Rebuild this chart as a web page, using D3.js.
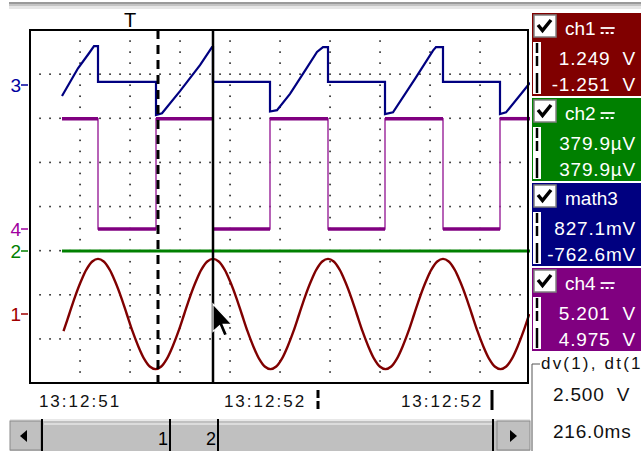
<!DOCTYPE html>
<html>
<head>
  <meta charset="UTF-8">
  <style>
body { margin: 0; background: #fff; }
svg { display: block; font-family: "Liberation Sans", Arial, sans-serif; }
  </style>
</head>
<body>
<svg></svg>
<script src="https://d3js.org/d3.v7.min.js"></script>
<script>

let width = 641, height = 451;

// ---- data ----
let chNames = ["ch1", "ch2", "math3", "ch4"];
let chMarkers = ["1", "2", "3", "4"];
let cursor1Text = ["1.249  V", "379.9\u00b5V", "827.1mV", "5.201  V"];
let cursor2Text = ["-1.251  V", "379.9\u00b5V", "-762.6mV", "4.975  V"];
let dvLabel = "dv(1), dt(1)";
let dvText = "2.500  V", dtText = "216.0ms";
let cursorTimes = [512, 732];          // ms from left edge
let triggerTime = 400;
let timeLabels = ["13:12:51", "13:12:52", "13:12:52"];
let timeLabelTimes = [200, 940, 1648];
let timeMarkTimes = [1152, 1848];

// ch1: sampled every 23 ms from 134 ms (V)
let ch1Start = 134, ch1Step = 23;
let ch1Values = [
  -0.39, 0.00, 0.39, 0.73, 1.01, 1.19, 1.25, 1.19, 1.01, 0.73,
   0.39, 0.00,-0.39,-0.73,-1.01,-1.19,-1.25,-1.19,-1.01,-0.73,
  -0.39, 0.00, 0.39, 0.73, 1.01, 1.19, 1.25, 1.19, 1.01, 0.73,
   0.39, 0.00,-0.39,-0.73,-1.01,-1.19,-1.25,-1.19,-1.01,-0.73,
  -0.39, 0.00, 0.39, 0.73, 1.01, 1.19, 1.25, 1.19, 1.01, 0.73,
   0.39, 0.00,-0.39,-0.73,-1.01,-1.19,-1.25,-1.19,-1.01,-0.73,
  -0.39, 0.00, 0.39, 0.73, 1.01, 1.19, 1.25, 1.19, 1.01, 0.73,
   0.39, 0.00,-0.39,-0.73,-1.01,-1.19,-1.25,-1.19,-1.01,-0.73,
  -0.39, 0.00
];

// ch2: flat
let ch2Times = [128, 2000];
let ch2Values = [0.00038, 0.00038];

// math3
let math3Times = [128, 192, 236, 256, 272, 272,
  504, 504, 528, 600, 680, 720, 728, 732, 732,
  960, 960, 988, 1040, 1104, 1148, 1172, 1192, 1192,
  1420, 1420, 1452, 1540, 1612, 1624, 1652, 1652,
  1880, 1880, 1904, 1976, 2000];
let math3Values = [-0.25, 0.38, 0.72, 0.88, 0.88, 0.07,
  0.07, -0.68, -0.64, -0.14, 0.45, 0.79, 0.86, 0.86, 0.07,
  0.07, -0.60, -0.57, -0.20, 0.36, 0.75, 0.86, 0.86, 0.07,
  0.07, -0.66, -0.62, 0.14, 0.78, 0.86, 0.86, 0.07,
  0.07, -0.66, -0.62, -0.12, 0.05];

// ch4: square wave (V)
let ch4Times = [128, 272, 272, 504, 504, 732, 732, 960, 960, 1192, 1192, 1420, 1420, 1652, 1652, 1880, 1880, 2000];
let ch4Values = [5.0, 5.0, 0, 0, 5.0, 5.0, 0, 0, 5.0, 5.0, 0, 0, 5.0, 5.0, 0, 0, 5.0, 5.0];

let svg = d3.select("svg")
    .attr("width", width)
    .attr("height", height)
    .attr("viewBox", "0 0 " + width + " " + height)

let plotL = 30, plotR = 528, plotT = 30, plotB = 383;
let divH = (plotB - plotT) / 8;

let x = d3.scaleLinear().domain([0, 2000]).range([30, 530]);
let yDiv = d3.scaleLinear().domain([0, 8]).range([plotT, plotB]);

function chScale(offset, vPerDiv) {
    return d3.scaleLinear().domain([0, vPerDiv]).range([offset, offset - divH]);
}
let yScales = [chScale(314, 1), chScale(251, 1), chScale(85, 1), chScale(229, 2)];
let colors = ["#800000", "#008000", "#000080", "#800080"];
let markerColors = ["#a00000", "#008000", "#0000a0", "#a000a0"];

// top gray strip
svg.append("rect").attr("x", 9).attr("y", 2).attr("width", 640).attr("height", 2).attr("fill", "#9a9a9a");
svg.append("rect").attr("x", 9).attr("y", 4).attr("width", 640).attr("height", 2).attr("fill", "#c4c4c4");
svg.append("rect").attr("x", 9).attr("y", 6).attr("width", 640).attr("height", 3).attr("fill", "#e6e6e6");

// grid dots
let dots = [];
d3.range(1, 8).forEach(k => {
    d3.range(40, 2000, 40).forEach(t => dots.push([x(t), yDiv(k)]));
});
d3.range(200, 2000, 200).forEach(t => {
    d3.range(0.25, 8, 0.25).forEach(k => { if (k % 1 !== 0) dots.push([x(t), yDiv(k)]); });
});
svg.append("g").selectAll("rect").data(dots).enter().append("rect")
    .attr("x", d => d[0] - 0.75).attr("y", d => d[1] - 0.75)
    .attr("width", 1.6).attr("height", 1.6).attr("fill", "#222");

// traces
svg.append("clipPath").attr("id", "clip").append("rect")
    .attr("x", plotL).attr("y", 0).attr("width", 500).attr("height", plotB);
let traces = svg.append("g").attr("clip-path", "url(#clip)");

function series(times, values) { return times.map((t, i) => ({t: t, v: values[i]})); }
let ch1Data = ch1Values.map((v, i) => ({t: ch1Start + i * ch1Step, v: v}));
let allData = [ch1Data, series(ch2Times, ch2Values), series(math3Times, math3Values), series(ch4Times, ch4Values)];

function lineFor(i, curve) {
    return d3.line().x(d => x(d.t)).y(d => yScales[i](d.v)).curve(curve || d3.curveLinear);
}

// ch4 with thicker noisy plateaus
traces.append("path").attr("d", lineFor(3)(allData[3]))
    .attr("fill", "none").attr("stroke", "#a030a0").attr("stroke-width", 1.5);
let plateaus = [];
for (let i = 0; i < allData[3].length - 1; i++) {
    if (allData[3][i].v === allData[3][i + 1].v) plateaus.push([allData[3][i], allData[3][i + 1]]);
}
traces.append("g").selectAll("path").data(plateaus).enter().append("path")
    .attr("d", d => lineFor(3)(d))
    .attr("fill", "none").attr("stroke", colors[3]).attr("stroke-width", 3.5);

traces.append("path").attr("d", lineFor(2)(allData[2]))
    .attr("fill", "none").attr("stroke", colors[2]).attr("stroke-width", 2.2);
traces.append("path").attr("d", lineFor(1)(allData[1]))
    .attr("fill", "none").attr("stroke", colors[1]).attr("stroke-width", 3);
traces.append("path").attr("d", lineFor(0, d3.curveCatmullRom)(allData[0]))
    .attr("fill", "none").attr("stroke", colors[0]).attr("stroke-width", 2.4);

// frame
svg.append("rect").attr("x", plotL).attr("y", plotT)
    .attr("width", plotR - plotL).attr("height", plotB - plotT)
    .attr("fill", "none").attr("stroke", "#000").attr("stroke-width", 2);

// cursors
svg.append("line").attr("x1", x(cursorTimes[0])).attr("x2", x(cursorTimes[0]))
    .attr("y1", plotT).attr("y2", plotB)
    .attr("stroke", "#000").attr("stroke-width", 3).attr("stroke-dasharray", "9,6");
svg.append("line").attr("x1", x(cursorTimes[1])).attr("x2", x(cursorTimes[1]))
    .attr("y1", plotT).attr("y2", plotB)
    .attr("stroke", "#000").attr("stroke-width", 2.5);

// trigger mark
svg.append("text").attr("x", x(triggerTime)).attr("y", 27)
    .attr("text-anchor", "middle").attr("font-size", 20).text("T");

// channel markers
svg.append("g").selectAll("text").data(chMarkers).enter().append("text")
    .attr("x", 21).attr("y", (d, i) => yScales[i](0) + 7)
    .attr("text-anchor", "end").attr("font-size", 19)
    .attr("fill", (d, i) => markerColors[i]).text(d => d);
svg.append("g").selectAll("line").data(chMarkers).enter().append("line")
    .attr("x1", 21).attr("x2", 28)
    .attr("y1", (d, i) => yScales[i](0)).attr("y2", (d, i) => yScales[i](0))
    .attr("stroke", (d, i) => markerColors[i]).attr("stroke-width", 1.5);

// mouse pointer
let mx = x(cursorTimes[1]), my = 304;
svg.append("path")
    .attr("d", "M0,0 L0,19 L4.5,15 L7.5,22 L10,21 L7,14 L13,14 Z")
    .attr("transform", "translate(" + mx + "," + my + ") scale(1.45)")
    .attr("fill", "#000").attr("stroke", "#fff").attr("stroke-width", 0.8);

// time labels
svg.append("g").selectAll("text").data(timeLabels).enter().append("text")
    .attr("x", (d, i) => x(timeLabelTimes[i])).attr("y", 407)
    .attr("text-anchor", "middle").attr("font-size", 17).attr("letter-spacing", 2)
    .attr("fill", "#111").text(d => d);
svg.append("line").attr("x1", x(timeMarkTimes[0])).attr("x2", x(timeMarkTimes[0]))
    .attr("y1", 390).attr("y2", 410).attr("stroke", "#000").attr("stroke-width", 3)
    .attr("stroke-dasharray", "8,3");
svg.append("line").attr("x1", x(timeMarkTimes[1])).attr("x2", x(timeMarkTimes[1]))
    .attr("y1", 390).attr("y2", 410).attr("stroke", "#000").attr("stroke-width", 3);

// scrollbar
let sb = svg.append("g");
sb.append("rect").attr("x", 10).attr("y", 419).attr("width", 520).attr("height", 32).attr("fill", "#c0c0c0");
sb.append("rect").attr("x", 10).attr("y", 419).attr("width", 520).attr("height", 2).attr("fill", "#e8e8e8");
sb.append("rect").attr("x", 44).attr("y", 423).attr("width", 448).attr("height", 2).attr("fill", "#dcdcdc");
[[10, 41], [497, 530]].forEach(b => {
    sb.append("rect").attr("x", b[0]).attr("y", 421).attr("width", b[1] - b[0]).attr("height", 29)
        .attr("fill", "#c0c0c0").attr("stroke", "#8a8a8a").attr("stroke-width", 1);
});
sb.append("path").attr("d", "M20,436 L27,430 L27,442 Z").attr("fill", "#000");
sb.append("path").attr("d", "M517,436 L510,430 L510,442 Z").attr("fill", "#000");
[42, x(cursorTimes[0]) + 12, x(cursorTimes[1]) + 5, 493].forEach(px => {
    sb.append("line").attr("x1", px).attr("x2", px).attr("y1", 419).attr("y2", 451)
        .attr("stroke", "#000").attr("stroke-width", 2);
});
sb.append("text").attr("x", x(cursorTimes[0]) + 10).attr("y", 445).attr("text-anchor", "end")
    .attr("font-size", 18).text("1");
sb.append("text").attr("x", x(cursorTimes[1]) + 3).attr("y", 445).attr("text-anchor", "end")
    .attr("font-size", 18).text("2");

// right-hand channel panels
let boxTop = [13, 98, 183, 268], boxH = 83, boxX = 532;
let panel = svg.append("g").selectAll("g").data(chNames).enter().append("g")
    .attr("transform", (d, i) => "translate(" + boxX + "," + boxTop[i] + ")");
panel.append("rect").attr("width", 120).attr("height", boxH).attr("fill", (d, i) => colors[i]);
// check box
panel.append("rect").attr("x", 2).attr("y", 2).attr("width", 22).attr("height", 22)
    .attr("fill", "#fff").attr("stroke", "#808080").attr("stroke-width", 1.5);
panel.append("path").attr("d", "M6,12 L10.5,17.5 L19,7").attr("fill", "none")
    .attr("stroke", "#000").attr("stroke-width", 3.5);
panel.append("text").attr("x", 33).attr("y", 22).attr("font-size", 19).attr("fill", "#fff").text(d => d);
// DC coupling symbol
panel.filter(d => d !== "math3").each(function(d) {
    let g = d3.select(this);
    let w = g.select("text").node().getComputedTextLength();
    let sx = 33 + w + 5;
    g.append("line").attr("x1", sx).attr("x2", sx + 14).attr("y1", 15).attr("y2", 15)
        .attr("stroke", "#fff").attr("stroke-width", 1.8);
    g.append("line").attr("x1", sx).attr("x2", sx + 14).attr("y1", 20).attr("y2", 20)
        .attr("stroke", "#fff").attr("stroke-width", 1.8).attr("stroke-dasharray", "3,2");
});
// cursor strip
panel.append("rect").attr("x", 1).attr("y", 29).attr("width", 8).attr("height", 52).attr("fill", "#fff");
panel.append("line").attr("x1", 5).attr("x2", 5).attr("y1", 30).attr("y2", 55)
    .attr("stroke", "#000").attr("stroke-width", 2.5).attr("stroke-dasharray", "10,3");
panel.append("line").attr("x1", 5).attr("x2", 5).attr("y1", 60).attr("y2", 80)
    .attr("stroke", "#000").attr("stroke-width", 2.5);
panel.append("text").attr("x", 104).attr("y", 52).attr("font-size", 19).attr("fill", "#fff")
    .attr("text-anchor", "end").attr("letter-spacing", 0.8).style("white-space", "pre")
    .text((d, i) => cursor1Text[i]);
panel.append("text").attr("x", 104).attr("y", 78).attr("font-size", 19).attr("fill", "#fff")
    .attr("text-anchor", "end").attr("letter-spacing", 0.8).style("white-space", "pre")
    .text((d, i) => cursor2Text[i]);

// dv / dt box
svg.append("path").attr("d", "M540,364 L" + boxX + ",364 L" + boxX + ",451")
    .attr("fill", "none").attr("stroke", "#555").attr("stroke-width", 1);
svg.append("text").attr("x", 541).attr("y", 369).attr("font-size", 17).attr("letter-spacing", 2.2)
    .attr("fill", "#111").text(dvLabel);
svg.append("text").attr("x", 553).attr("y", 401).attr("font-size", 19).attr("letter-spacing", 0.8)
    .attr("fill", "#111").style("white-space", "pre").text(dvText);
svg.append("text").attr("x", 553).attr("y", 438).attr("font-size", 19).attr("letter-spacing", 0.8)
    .attr("fill", "#111").text(dtText);

</script>
</body>
</html>
